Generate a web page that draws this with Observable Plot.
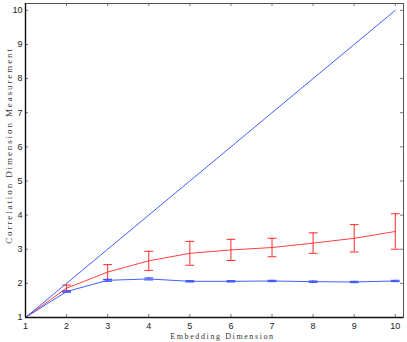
<!DOCTYPE html>
<html><head><meta charset="utf-8">
<script src="https://cdn.jsdelivr.net/npm/d3@7"></script>
<script src="https://cdn.jsdelivr.net/npm/@observablehq/plot@0.6"></script>
<style>body{margin:0;background:#fff}</style>
</head><body><div id="chart"></div>
<script>
// Data
const dims = [1, 2, 3, 4, 5, 6, 7, 8, 9, 10];
const identityLine = [1, 2, 3, 4, 5, 6, 7, 8, 9, 10];
const redMean = [1, 1.86, 2.33, 2.66, 2.88, 2.98, 3.05, 3.18, 3.32, 3.52];
const redErr  = [0, 0.09, 0.22, 0.28, 0.35, 0.31, 0.27, 0.30, 0.40, 0.52];
const blueMean = [1, 1.76, 2.09, 2.13, 2.06, 2.06, 2.07, 2.05, 2.04, 2.07];
const blueErr  = [0, 0.02, 0.03, 0.03, 0.02, 0.02, 0.02, 0.02, 0.02, 0.02];
const xLabel = "Embedding Dimension";
const yLabel = "Correlation Dimension Measurement";

const RED = "#ff2a2a", BLUE = "#2f4cff";
const diag = dims.map((x, i) => ({x, y: identityLine[i]}));
const red = dims.map((x, i) => ({x, m: redMean[i], e: redErr[i]}));
const blue = dims.map((x, i) => ({x, m: blueMean[i], e: blueErr[i]}));
const redBars = red.filter(d => d.e > 0);
const blueBars = blue.filter(d => d.e > 0);
const capShape = {draw(ctx, l) { ctx.moveTo(0, 0); ctx.lineTo(0, -l); }};
function errMarks(data, color) {
  return [
    Plot.ruleX(data, {x: "x", y1: d => d.m - d.e, y2: d => d.m + d.e, stroke: color, strokeWidth: 1}),
    Plot.vector(data, {x: "x", y: d => d.m - d.e, length: 8, rotate: 90, anchor: "middle", shape: capShape, stroke: color, strokeWidth: 1}),
    Plot.vector(data, {x: "x", y: d => d.m + d.e, length: 8, rotate: 90, anchor: "middle", shape: capShape, stroke: color, strokeWidth: 1})
  ];
}

const W = 407, H = 342, mL = 25, mR = 4, mT = 3, mB = 25;
const fw = W - mL - mR, fh = H - mT - mB;
const TICK = "#777";

const chart = Plot.plot({
  width: W, height: H,
  marginLeft: mL, marginRight: mR, marginTop: mT, marginBottom: mB,
  x: {domain: [1, 10.2]},
  y: {domain: [1, 10.2]},
  style: {fontFamily: "'Liberation Sans', Arial, sans-serif", fontSize: "9px", background: "#fff", color: "#222"},
  marks: [
    Plot.axisX(dims, {tickSize: 0, tickPadding: 5, label: null, tickFormat: d => String(d)}),
    Plot.axisY(dims, {tickSize: 0, tickPadding: 3, label: null, tickFormat: d => String(d)}),
    Plot.tickX(dims, {x: d => d, insetTop: fh - 3, stroke: TICK}),
    Plot.tickX(dims, {x: d => d, insetBottom: fh - 3, stroke: TICK}),
    Plot.tickY(dims, {y: d => d, insetRight: fw - 3, stroke: TICK}),
    Plot.tickY(dims, {y: d => d, insetLeft: fw - 3, stroke: TICK}),
    Plot.line(diag, {x: "x", y: "y", stroke: BLUE, strokeWidth: 0.9}),
    Plot.line(red, {x: "x", y: "m", stroke: RED, strokeWidth: 0.9}),
    ...errMarks(redBars, RED),
    Plot.line(blue, {x: "x", y: "m", stroke: BLUE, strokeWidth: 0.9}),
    ...errMarks(blueBars, BLUE),
    Plot.frame({stroke: "#555", strokeWidth: 1}),
    Plot.ruleX([1], {stroke: "#111", strokeWidth: 1.4}),
    Plot.ruleY([1], {stroke: "#111", strokeWidth: 1.4}),
    Plot.text([xLabel], {text: d => d, frameAnchor: "bottom", textAnchor: "middle", dx: 8, dy: 21, lineAnchor: "bottom", fontFamily: "'Liberation Serif', serif", fontSize: 8, fill: "#333"}),
    Plot.text([yLabel], {text: d => d, frameAnchor: "left", textAnchor: "middle", dx: -14, dy: -15, rotate: -90, lineAnchor: "bottom", fontFamily: "'Liberation Serif', serif", fontSize: 9, fill: "#333"})
  ]
});
const labels = d3.select(chart).selectAll("g[aria-label='text'] text");
labels.filter(d => true).each(function() {
  const t = d3.select(this);
  t.style("letter-spacing", t.text() === yLabel ? "1.9px" : "1.6px");
});
document.getElementById("chart").appendChild(chart);
</script>
</body></html>
